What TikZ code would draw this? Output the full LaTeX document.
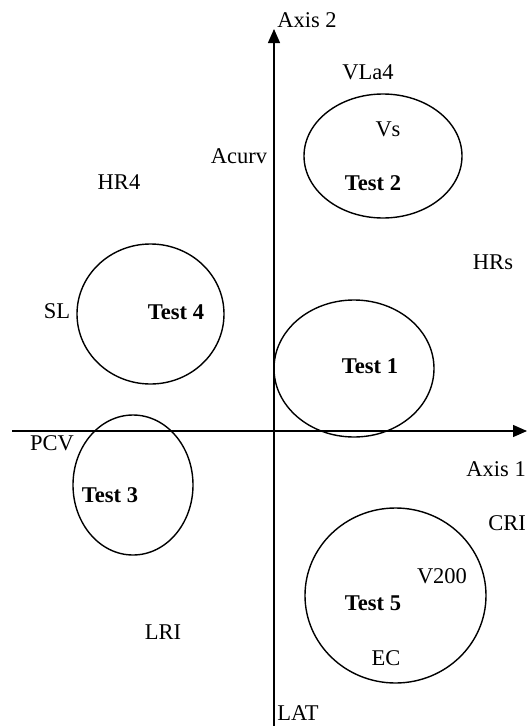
\documentclass[tikz,border=0pt]{standalone}
\usepackage{fontspec}
\setmainfont{Liberation Serif}
\usetikzlibrary{arrows.meta,shapes.geometric}
\begin{document}
\begin{tikzpicture}[x=1pt,y=-1pt,
  lbl/.style={inner sep=0pt,anchor=base,font=\fontsize{22.5}{26}\selectfont},
  tlbl/.style={lbl,font=\fontsize{22.5}{26}\selectfont\bfseries},
  grp/.style={ellipse,draw,line width=1.4pt,inner sep=0pt,minimum width=#1},
  axis/.style={line width=1.3pt,-{Triangle[length=14pt,width=12pt]}}]
\useasboundingbox (0,0) rectangle (528,726);
% axes
\coordinate (xs) at (12,431);
\coordinate (xe) at (527,431);
\coordinate (ys) at (274,726);
\coordinate (ye) at (274,29);
\draw[axis] (xs) -- (xe);
\draw[axis] (ys) -- (ye);
% groups
\node[grp=158pt,minimum height=124pt] (g2) at (383,156) {};
\node[grp=147pt,minimum height=140pt] (g4) at (150.5,314) {};
\node[grp=160pt,minimum height=137pt] (g1) at (354,368.5) {};
\node[grp=120pt,minimum height=140pt] (g3) at (133,485) {};
\node[grp=181pt,minimum height=175pt] (g5) at (395.5,595.5) {};
% labels
\node[lbl] (ax2) at (307,27.5) {Axis 2};
\node[lbl] (vla4) at (368,79.5) {VLa4};
\node[lbl] (vs) at (388,136.5) {Vs};
\node[tlbl] (t2) at (373,190.5) {Test 2};
\node[lbl] (acurv) at (239,163.5) {Acurv};
\node[lbl] (hr4) at (119,189.5) {HR4};
\node[lbl] (hrs) at (493,269.5) {HRs};
\node[lbl] (sl) at (57,318.5) {SL};
\node[tlbl] (t4) at (176,319.5) {Test 4};
\node[tlbl] (t1) at (370,373.5) {Test 1};
\node[lbl] (pcv) at (52,450.5) {PCV};
\node[lbl,anchor=base east] (ax1) at (526,476.5) {Axis 1};
\node[tlbl] (t3) at (110,502.5) {Test 3};
\node[lbl] (cri) at (507,530.5) {CRI};
\node[lbl] (v200) at (442,583.5) {V200};
\node[tlbl] (t5) at (373,610.5) {Test 5};
\node[lbl] (lri) at (163,639.5) {LRI};
\node[lbl] (ec) at (386,665.5) {EC};
\node[lbl] (lat) at (298,720.5) {LAT};
\end{tikzpicture}
\end{document}
